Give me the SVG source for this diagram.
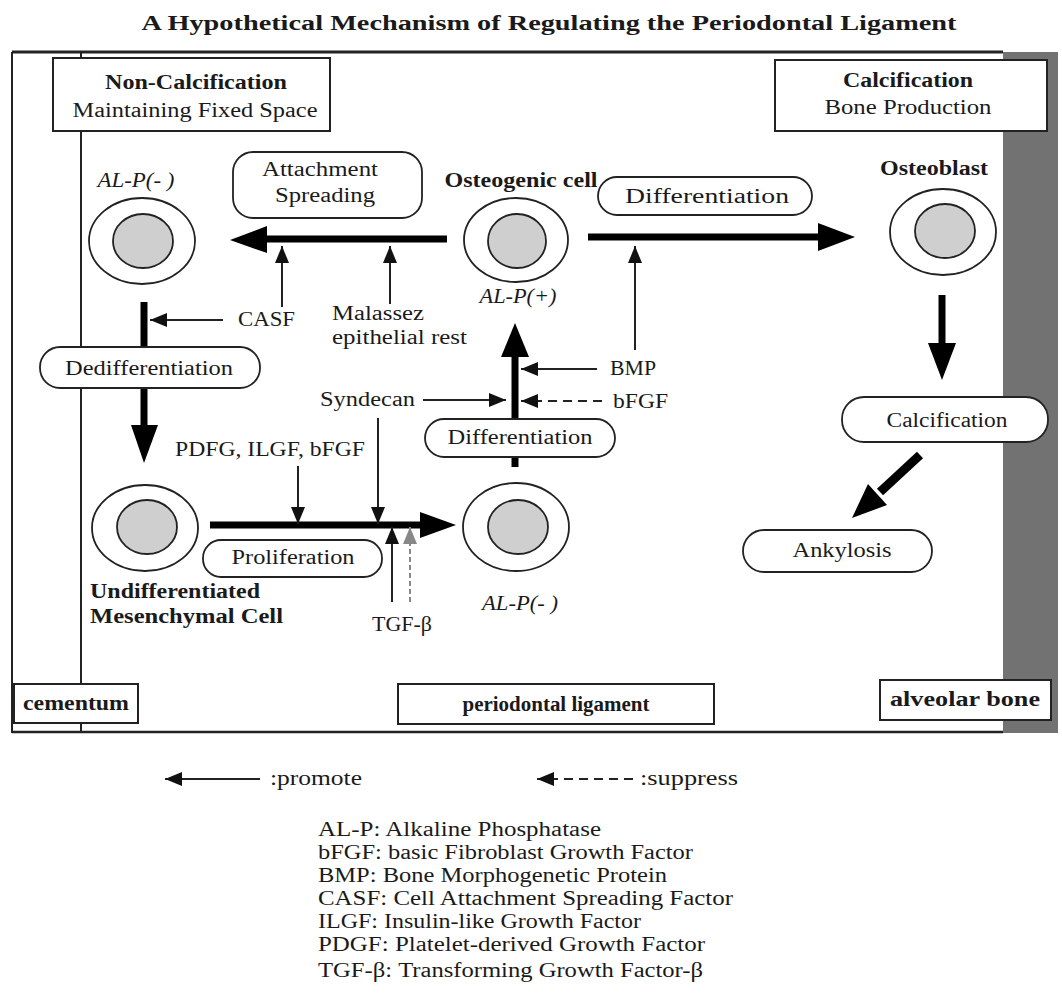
<svg xmlns="http://www.w3.org/2000/svg" width="1062" height="1003" viewBox="0 0 1062 1003">
<defs>
<marker id="ah" markerUnits="userSpaceOnUse" markerWidth="18" markerHeight="16" refX="17" refY="7" orient="auto"><path d="M0,0 L17,7 L0,14 Z" fill="#111"/></marker>
<marker id="ahg" markerUnits="userSpaceOnUse" markerWidth="18" markerHeight="16" refX="17" refY="7" orient="auto"><path d="M0,0 L17,7 L0,14 Z" fill="#888"/></marker>
<style>
text{font-family:"Liberation Serif","DejaVu Serif",serif;font-size:20.5px;fill:#1a1a1a}
.b{font-weight:bold}
.i{font-style:italic}
.m{text-anchor:middle}
.box{fill:#fff;stroke:#222;stroke-width:2}
.rbox{fill:#fff;stroke:#222;stroke-width:1.8}
.outer{fill:#fff;stroke:#222;stroke-width:1.8}
.inner{fill:#cfcfcf;stroke:#222;stroke-width:1.8}
.thin{stroke:#222;stroke-width:2;fill:none;marker-end:url(#ah)}
.dash{stroke:#222;stroke-width:2;fill:none;stroke-dasharray:9,6;marker-end:url(#ah)}
.gdash{stroke:#888;stroke-width:2;fill:none;stroke-dasharray:5,3;marker-end:url(#ahg)}
.thick{stroke:#000;stroke-width:7;fill:none}
.head{fill:#000}
</style>
</defs>
<rect width="1062" height="1003" fill="#fff"/>
<text class="b m" x="549" y="30" font-size="23" textLength="815" lengthAdjust="spacingAndGlyphs">A Hypothetical Mechanism of Regulating the Periodontal Ligament</text>

<g id="frame">
<rect x="1003" y="52" width="55" height="681" fill="#727272"/>
<line x1="12" y1="52" x2="1003" y2="52" stroke="#222" stroke-width="3"/>
<line x1="12" y1="732" x2="1003" y2="732" stroke="#222" stroke-width="2.5"/>
<line x1="12" y1="52" x2="12" y2="733" stroke="#222" stroke-width="2"/>
<line x1="81" y1="52" x2="81" y2="733" stroke="#222" stroke-width="2"/>
</g>

<g id="connectors">
<line class="thick" x1="447" y1="239" x2="262" y2="239"/><polygon class="head" points="267,226 230,240 267,253"/>
<line class="thick" x1="588" y1="237" x2="822" y2="237"/><polygon class="head" points="818,223 855,237 818,251"/>
<line class="thick" x1="144" y1="302" x2="144" y2="430"/><polygon class="head" points="131,425 144,463 158,425"/>
<line class="thick" x1="210" y1="525" x2="424" y2="525"/><polygon class="head" points="420,512 456,525 420,538"/>
<line class="thick" x1="515" y1="467" x2="515" y2="352"/><polygon class="head" points="501,357 515,323 529,357"/>
<line class="thick" x1="942" y1="295" x2="942" y2="347"/><polygon class="head" points="928,343 942,380 956,343"/>
<line x1="920" y1="455" x2="880" y2="492" stroke="#000" stroke-width="9"/><polygon class="head" points="887,505 852,518 868,484"/>

<line class="thin" x1="282" y1="307" x2="282" y2="246"/>
<line class="thin" x1="390" y1="304" x2="390" y2="246"/>
<line class="thin" x1="223" y1="320" x2="150" y2="320"/>
<line class="thin" x1="635" y1="350" x2="635" y2="246"/>
<line class="thin" x1="597" y1="369" x2="521" y2="369"/>
<line class="dash" x1="602" y1="401" x2="521" y2="401"/>
<line class="thin" x1="423" y1="400" x2="506" y2="400"/>
<line class="thin" x1="298" y1="466" x2="298" y2="524"/>
<line class="thin" x1="378" y1="418" x2="378" y2="524"/>
<line class="thin" x1="392" y1="602" x2="392" y2="527"/>
<line class="gdash" x1="410" y1="602" x2="410" y2="527"/>
</g>

<g id="non-calcification">
<rect class="box" x="53" y="58" width="277" height="73"/>
<text class="b m" x="196" y="89" textLength="182" lengthAdjust="spacingAndGlyphs">Non-Calcification</text>
<text class="m" x="195" y="117" textLength="245" lengthAdjust="spacingAndGlyphs">Maintaining Fixed Space</text>
</g>
<g id="calcification-header">
<rect class="box" x="775" y="60" width="272" height="71"/>
<text class="b m" x="908" y="87" textLength="130" lengthAdjust="spacingAndGlyphs">Calcification</text>
<text class="m" x="908" y="114" textLength="167" lengthAdjust="spacingAndGlyphs">Bone Production</text>
</g>

<g id="cell-alp-neg-top">
<text class="i m" x="136" y="187" textLength="77" lengthAdjust="spacingAndGlyphs">AL-P(- )</text>
<ellipse class="outer" cx="142" cy="241" rx="53" ry="43"/>
<ellipse class="inner" cx="143" cy="241" rx="30" ry="27"/>
</g>
<g id="osteogenic-cell">
<text class="b m" x="521" y="187" textLength="153" lengthAdjust="spacingAndGlyphs">Osteogenic cell</text>
<ellipse class="outer" cx="516" cy="240" rx="52" ry="42"/>
<ellipse class="inner" cx="517" cy="241" rx="29" ry="27"/>
<text class="i m" x="518" y="303" textLength="77" lengthAdjust="spacingAndGlyphs">AL-P(+)</text>
</g>
<g id="osteoblast">
<text class="b m" x="934" y="175" textLength="108" lengthAdjust="spacingAndGlyphs">Osteoblast</text>
<ellipse class="outer" cx="943" cy="232" rx="53" ry="43"/>
<ellipse class="inner" cx="945" cy="231" rx="30" ry="27"/>
</g>
<g id="undifferentiated-cell">
<ellipse class="outer" cx="145" cy="528" rx="53" ry="43"/>
<ellipse class="inner" cx="147" cy="527" rx="30" ry="27"/>
<text class="b" x="90" y="598" textLength="170" lengthAdjust="spacingAndGlyphs">Undifferentiated</text>
<text class="b" x="90" y="623" textLength="193" lengthAdjust="spacingAndGlyphs">Mesenchymal  Cell</text>
</g>
<g id="cell-alp-neg-bottom">
<ellipse class="outer" cx="516" cy="527" rx="53" ry="44"/>
<ellipse class="inner" cx="518" cy="527" rx="30" ry="27"/>
<text class="i m" x="520" y="610" textLength="76" lengthAdjust="spacingAndGlyphs">AL-P(- )</text>
</g>

<g id="attachment-spreading">
<rect class="rbox" x="233" y="152" width="189" height="66" rx="20"/>
<text class="m" x="320" y="176" textLength="116" lengthAdjust="spacingAndGlyphs">Attachment</text>
<text class="m" x="325" y="202" textLength="100" lengthAdjust="spacingAndGlyphs">Spreading</text>
</g>
<g id="differentiation-top">
<rect class="rbox" x="598" y="177" width="214" height="38" rx="19"/>
<text class="m" x="707" y="203" textLength="164" lengthAdjust="spacingAndGlyphs">Differentiation</text>
</g>
<g id="dedifferentiation">
<rect class="rbox" x="40" y="347" width="220" height="41" rx="20"/>
<text class="m" x="149" y="375" textLength="168" lengthAdjust="spacingAndGlyphs">Dedifferentiation</text>
</g>
<g id="differentiation-lower">
<rect class="rbox" x="425" y="419" width="190" height="38" rx="19"/>
<text class="m" x="520" y="444" textLength="145" lengthAdjust="spacingAndGlyphs">Differentiation</text>
</g>
<g id="proliferation">
<rect class="rbox" x="203" y="540" width="179" height="37" rx="18"/>
<text class="m" x="293" y="564" textLength="123" lengthAdjust="spacingAndGlyphs">Proliferation</text>
</g>
<g id="calcification">
<rect class="rbox" x="842" y="397" width="206" height="45" rx="22"/>
<text class="m" x="947" y="427" textLength="121" lengthAdjust="spacingAndGlyphs">Calcification</text>
</g>
<g id="ankylosis">
<rect class="rbox" x="743" y="530" width="189" height="42" rx="21"/>
<text class="m" x="842" y="557" textLength="99" lengthAdjust="spacingAndGlyphs">Ankylosis</text>
</g>

<g id="factors">
<text x="238" y="326" textLength="57" lengthAdjust="spacingAndGlyphs">CASF</text>
<text x="332" y="320" textLength="92" lengthAdjust="spacingAndGlyphs">Malassez</text>
<text x="332" y="344" textLength="135" lengthAdjust="spacingAndGlyphs">epithelial rest</text>
<text x="610" y="375" textLength="46" lengthAdjust="spacingAndGlyphs">BMP</text>
<text x="613" y="408" textLength="55" lengthAdjust="spacingAndGlyphs">bFGF</text>
<text x="320" y="406" textLength="95" lengthAdjust="spacingAndGlyphs">Syndecan</text>
<text x="175" y="456" textLength="190" lengthAdjust="spacingAndGlyphs">PDFG, ILGF, bFGF</text>
<text x="372" y="631" textLength="60" lengthAdjust="spacingAndGlyphs">TGF-β</text>
</g>

<g id="cementum">
<rect class="box" x="14" y="684" width="124" height="39"/>
<text class="b m" x="76" y="710" font-size="20" textLength="106" lengthAdjust="spacingAndGlyphs">cementum</text>
</g>
<g id="periodontal-ligament">
<rect class="box" x="398" y="684" width="316" height="40"/>
<text class="b m" x="556" y="711" font-size="21" textLength="187" lengthAdjust="spacingAndGlyphs">periodontal ligament</text>
</g>
<g id="alveolar-bone">
<rect class="box" x="880" y="680" width="171" height="40"/>
<text class="b m" x="965" y="706" font-size="20" textLength="150" lengthAdjust="spacingAndGlyphs">alveolar bone</text>
</g>

<g id="legend">
<line class="thin" x1="260" y1="779" x2="165" y2="779"/>
<text x="270" y="785" textLength="92" lengthAdjust="spacingAndGlyphs">:promote</text>
<line class="dash" x1="633" y1="779" x2="537" y2="779"/>
<text x="640" y="785" textLength="98" lengthAdjust="spacingAndGlyphs">:suppress</text>
<text x="318" y="836" textLength="283" lengthAdjust="spacingAndGlyphs">AL-P: Alkaline Phosphatase</text>
<text x="318" y="859" textLength="375" lengthAdjust="spacingAndGlyphs">bFGF: basic Fibroblast Growth Factor</text>
<text x="318" y="882" textLength="349" lengthAdjust="spacingAndGlyphs">BMP: Bone Morphogenetic Protein</text>
<text x="318" y="905" textLength="415" lengthAdjust="spacingAndGlyphs">CASF: Cell Attachment Spreading Factor</text>
<text x="318" y="928" textLength="323" lengthAdjust="spacingAndGlyphs">ILGF: Insulin-like Growth Factor</text>
<text x="318" y="951" textLength="387" lengthAdjust="spacingAndGlyphs">PDGF: Platelet-derived Growth Factor</text>
<text x="318" y="977" textLength="385" lengthAdjust="spacingAndGlyphs">TGF-β: Transforming Growth Factor-β</text>
</g>
</svg>
